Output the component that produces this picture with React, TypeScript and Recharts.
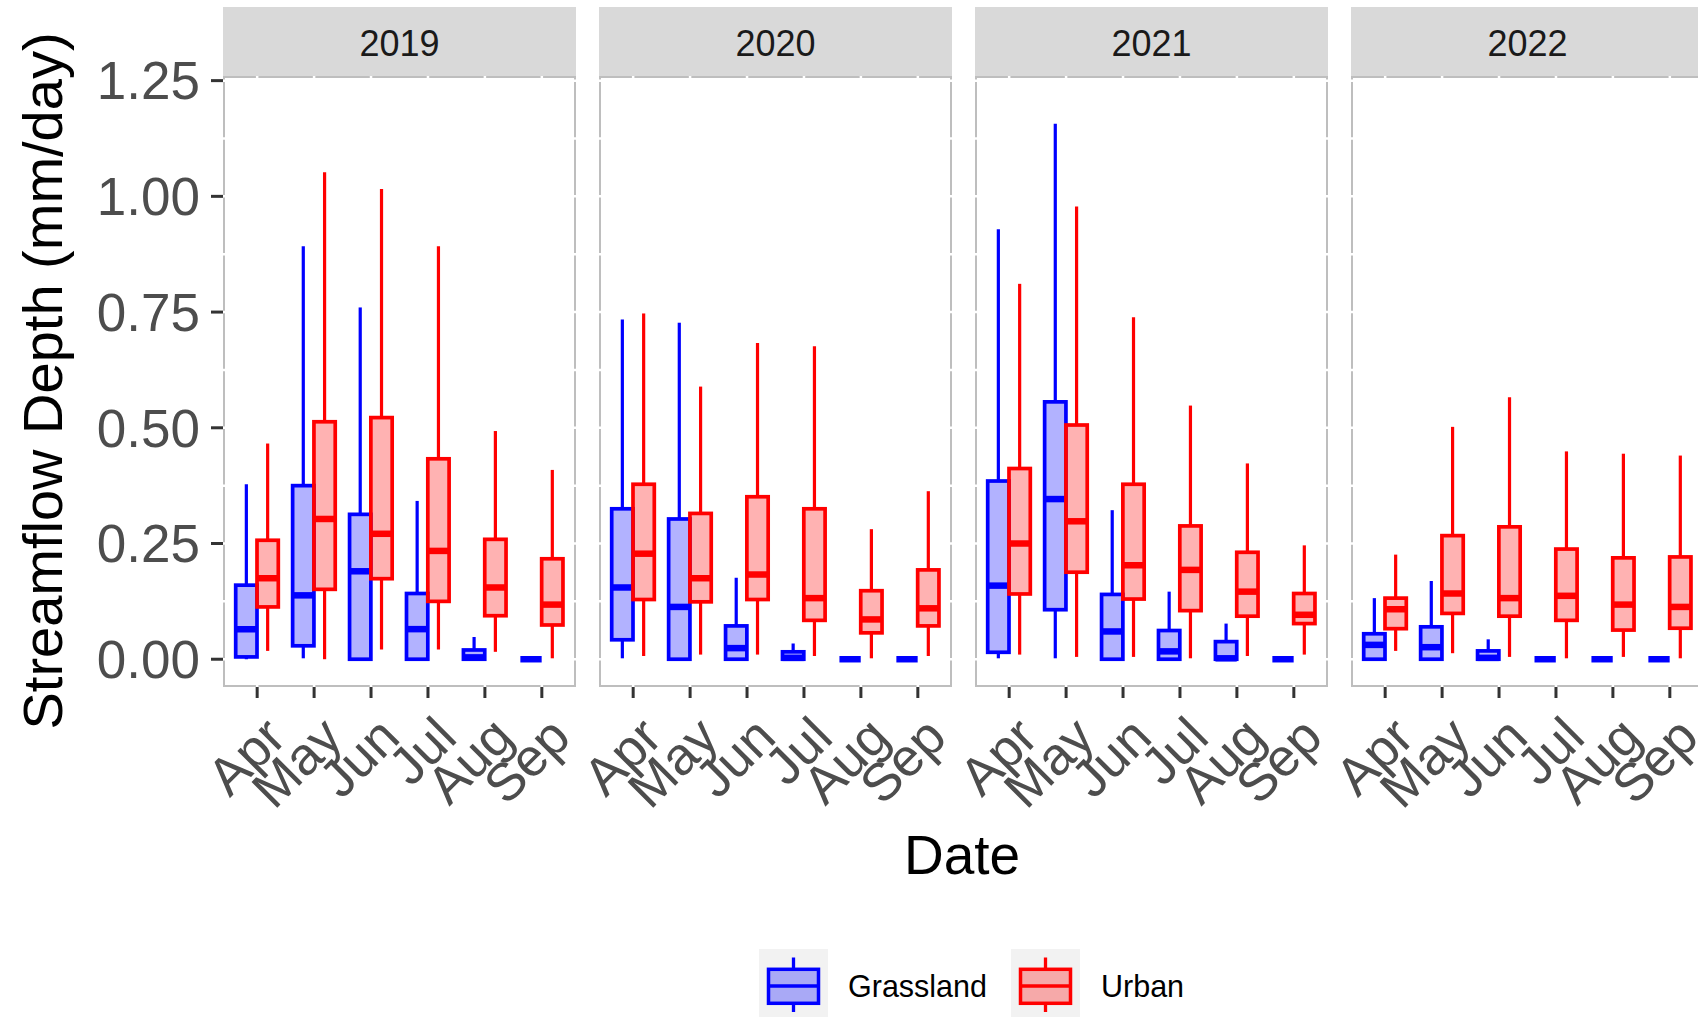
import React from 'react';
import { ComposedChart, Bar, XAxis, YAxis, CartesianGrid } from 'recharts';

const FONT = '"Liberation Sans", Arial, sans-serif';

const MONTHS = ['Apr', 'May', 'Jun', 'Jul', 'Aug', 'Sep'];
const YEARS = ['2019', '2020', '2021', '2022'];
const Y_TICKS = [0, 0.25, 0.5, 0.75, 1, 1.25];
const Y_GRID = [0, 0.125, 0.25, 0.375, 0.5, 0.625, 0.75, 0.875, 1, 1.125, 1.25];
const Y_DOMAIN = [-0.06, 1.26];

// each row: [min, q1, median, q3, max] for Apr..Sep
const GRASS_2019 = [
  [0, 0.005, 0.065, 0.16, 0.378],
  [0.002, 0.029, 0.138, 0.375, 0.892],
  [0, 0, 0.19, 0.313, 0.76],
  [0, 0, 0.065, 0.142, 0.342],
  [0, 0, 0.004, 0.02, 0.048],
  [0, 0, 0, 0, 0],
];
const URBAN_2019 = [
  [0.018, 0.113, 0.175, 0.257, 0.466],
  [0, 0.151, 0.303, 0.513, 1.052],
  [0.021, 0.174, 0.271, 0.522, 1.016],
  [0.021, 0.125, 0.234, 0.433, 0.892],
  [0.016, 0.094, 0.155, 0.259, 0.493],
  [0.002, 0.074, 0.118, 0.217, 0.409],
];
const GRASS_2020 = [
  [0.002, 0.042, 0.155, 0.325, 0.734],
  [0, 0, 0.113, 0.303, 0.727],
  [0, 0, 0.024, 0.072, 0.176],
  [0, 0, 0.003, 0.016, 0.034],
  [0, 0, 0, 0, 0],
  [0, 0, 0, 0, 0],
];
const URBAN_2020 = [
  [0.007, 0.129, 0.228, 0.378, 0.747],
  [0.01, 0.124, 0.175, 0.315, 0.589],
  [0.01, 0.129, 0.183, 0.351, 0.683],
  [0.007, 0.084, 0.132, 0.325, 0.676],
  [0.002, 0.057, 0.086, 0.148, 0.281],
  [0.007, 0.072, 0.11, 0.193, 0.363],
];
const GRASS_2021 = [
  [0.002, 0.015, 0.159, 0.385, 0.929],
  [0.002, 0.107, 0.346, 0.556, 1.157],
  [0, 0, 0.06, 0.14, 0.322],
  [0, 0, 0.017, 0.062, 0.146],
  [0, 0, 0.002, 0.038, 0.077],
  [0, 0, 0, 0, 0],
];
const URBAN_2021 = [
  [0.01, 0.141, 0.25, 0.412, 0.811],
  [0.005, 0.188, 0.298, 0.506, 0.978],
  [0.005, 0.13, 0.203, 0.378, 0.739],
  [0.002, 0.105, 0.193, 0.288, 0.548],
  [0.007, 0.093, 0.146, 0.231, 0.423],
  [0.01, 0.077, 0.096, 0.142, 0.246],
];
const GRASS_2022 = [
  [0, 0, 0.031, 0.055, 0.132],
  [0, 0, 0.026, 0.07, 0.169],
  [0, 0, 0.003, 0.018, 0.043],
  [0, 0, 0, 0, 0],
  [0, 0, 0, 0, 0],
  [0, 0, 0, 0, 0],
];
const URBAN_2022 = [
  [0.018, 0.066, 0.108, 0.132, 0.226],
  [0.013, 0.099, 0.142, 0.267, 0.502],
  [0.005, 0.093, 0.132, 0.286, 0.566],
  [0.002, 0.084, 0.137, 0.238, 0.449],
  [0.005, 0.063, 0.118, 0.219, 0.444],
  [0.002, 0.067, 0.113, 0.221, 0.44],
];

const GRASS = [GRASS_2019, GRASS_2020, GRASS_2021, GRASS_2022];
const URBAN = [URBAN_2019, URBAN_2020, URBAN_2021, URBAN_2022];

const BLUE = '#0000FF';
const RED = '#FF0000';

// layout
const PANEL_LEFT = [223, 599, 975, 1351];
const PANEL_W = 353;
const PANEL_TOP = 76;
const PANEL_H = 611;
const STRIP_TOP = 7;
const X_AXIS_H = 140;
const Y_AXIS_W = 223;
const PAD_TOP = 30;
const PAD_SIDE = 70;
const PAD_RIGHT = 30;
const X_PAD = 5.7;

// recharts 3 may hand over a wrapped scale object instead of a d3 function
function applyScale(s: any, v: any): number | undefined {
  if (!s) return undefined;
  if (typeof s === 'function') return s(v);
  if (typeof s.map === 'function') {
    const r = s.map(v);
    if (typeof r === 'number') return r;
  }
  if (typeof s.scale === 'function') return s.scale(v);
  return undefined;
}

const BoxShape = (props: any) => {
  const { x, y, width, height, stats, color } = props;
  if (x == null || y == null || !stats) return null;
  const [lo, q1, med, q3, hi] = stats;
  const span = hi - lo;
  const py = (v: number) => (span > 0 ? y + (height * (hi - v)) / span : y);
  const cx = x + width / 2;
  return (
    <g>
      <line x1={cx} x2={cx} y1={py(hi)} y2={py(q3)} stroke={color} strokeWidth={3.2} />
      <line x1={cx} x2={cx} y1={py(q1)} y2={py(lo)} stroke={color} strokeWidth={3.2} />
      <rect
        x={x}
        y={py(q3)}
        width={width}
        height={py(q1) - py(q3)}
        fill={color}
        fillOpacity={0.3}
        stroke={color}
        strokeWidth={3.7}
      />
      <line x1={x} x2={x + width} y1={py(med)} y2={py(med)} stroke={color} strokeWidth={6.5} />
    </g>
  );
};

const MonthTick = (props: any) => {
  const { x, y, payload } = props;
  return (
    <g transform={`translate(${x + 31}, ${y + 42}) rotate(-45)`}>
      <text x={0} y={0} textAnchor="end" fill="#4D4D4D" fontSize={53} fontFamily={FONT}>
        {payload.value}
      </text>
    </g>
  );
};

const horizontalGrid = ({ yAxis, offset }: any) =>
  Y_GRID.map((v) => {
    const p = applyScale(yAxis && yAxis.scale, v);
    if (typeof p === 'number' && !isNaN(p)) return p;
    return offset.top + (offset.height * (Y_DOMAIN[1] - v)) / (Y_DOMAIN[1] - Y_DOMAIN[0]);
  });

const verticalGrid = ({ offset }: any) => {
  const band = (offset.width - 2 * X_PAD) / MONTHS.length;
  return MONTHS.map((_, i) => offset.left + X_PAD + band * (i + 0.5));
};

function Panel({ index }: { index: number }) {
  const first = index === 0;
  const data = MONTHS.map((m, i) => ({ month: m, grass: GRASS[index][i], urban: URBAN[index][i] }));
  const left = first ? 0 : PANEL_LEFT[index] - PAD_SIDE;
  const width = (first ? Y_AXIS_W : PAD_SIDE) + PANEL_W + PAD_RIGHT;
  const height = PAD_TOP + PANEL_H + X_AXIS_H;

  return (
    <div style={{ position: 'absolute', left, top: PANEL_TOP - PAD_TOP }}>
      <ComposedChart
        width={width}
        height={height}
        data={data}
        margin={{ top: PAD_TOP, right: PAD_RIGHT, bottom: 0, left: first ? 0 : PAD_SIDE }}
        barGap={0}
      >
        <CartesianGrid
          stroke="#FFFFFF"
          strokeWidth={2.5}
          horizontalCoordinatesGenerator={horizontalGrid}
          verticalCoordinatesGenerator={verticalGrid}
        />
        <XAxis
          dataKey="month"
          type="category"
          interval={0}
          padding={{ left: X_PAD, right: X_PAD }}
          height={X_AXIS_H}
          axisLine={false}
          tickSize={11}
          tickMargin={0}
          tickLine={{ stroke: '#333333', strokeWidth: 3 }}
          tick={<MonthTick />}
        />
        <YAxis
          type="number"
          domain={Y_DOMAIN}
          allowDataOverflow
          ticks={Y_TICKS}
          hide={!first}
          width={Y_AXIS_W}
          axisLine={false}
          tickSize={12}
          tickMargin={11}
          tickLine={{ stroke: '#333333', strokeWidth: 3 }}
          tick={{ fill: '#4D4D4D', fontSize: 53, fontFamily: FONT }}
          tickFormatter={(v: number) => v.toFixed(2)}
        />
        <Bar
          dataKey={(d: any) => [d.grass[0], d.grass[4]]}
          barSize={21.3}
          isAnimationActive={false}
          shape={(p: any) => <BoxShape {...p} stats={p.payload.grass} color={BLUE} />}
        />
        <Bar
          dataKey={(d: any) => [d.urban[0], d.urban[4]]}
          barSize={21.3}
          isAnimationActive={false}
          shape={(p: any) => <BoxShape {...p} stats={p.payload.urban} color={RED} />}
        />
      </ComposedChart>
    </div>
  );
}

function LegendKey({ x, color }: { x: number; color: string }) {
  const top = 949;
  const cx = x + 34.5;
  return (
    <g>
      <rect x={x} y={top} width={69} height={68} fill="#F2F2F2" />
      <line x1={cx} x2={cx} y1={957.5} y2={969.3} stroke={color} strokeWidth={3.3} />
      <line x1={cx} x2={cx} y1={1003.3} y2={1012} stroke={color} strokeWidth={3.3} />
      <rect x={cx - 25} y={969.3} width={50} height={34} fill={color} fillOpacity={0.3} stroke={color} strokeWidth={3.5} />
      <line x1={cx - 25} x2={cx + 25} y1={986} y2={986} stroke={color} strokeWidth={3.5} />
    </g>
  );
}

export default function App() {
  return (
    <div
      style={{
        position: 'absolute',
        left: 0,
        top: 0,
        width: 1698,
        height: 1017,
        overflow: 'hidden',
        background: '#FFFFFF',
        fontFamily: FONT,
      }}
    >
      <svg width={1698} height={1017} style={{ position: 'absolute', left: 0, top: 0 }}>
        {YEARS.map((yr, i) => (
          <g key={yr}>
            <rect x={PANEL_LEFT[i]} y={STRIP_TOP} width={PANEL_W} height={PANEL_TOP - STRIP_TOP} fill="#D9D9D9" />
            <text
              x={PANEL_LEFT[i] + PANEL_W / 2}
              y={56}
              textAnchor="middle"
              fontSize={36}
              fill="#1A1A1A"
              fontFamily={FONT}
            >
              {yr}
            </text>
            <rect
              x={PANEL_LEFT[i] + 1}
              y={PANEL_TOP + 1}
              width={PANEL_W - 2}
              height={PANEL_H - 2}
              fill="#FFFFFF"
              stroke="#BEBEBE"
              strokeWidth={2}
            />
          </g>
        ))}
        <text
          transform="translate(62, 381) rotate(-90)"
          textAnchor="middle"
          fontSize={56}
          fill="#000000"
          fontFamily={FONT}
        >
          Streamflow Depth (mm/day)
        </text>
        <text x={962} y={874} textAnchor="middle" fontSize={55} fill="#000000" fontFamily={FONT}>
          Date
        </text>
        <LegendKey x={759} color={BLUE} />
        <text x={848} y={997} fontSize={30.5} fill="#000000" fontFamily={FONT}>
          Grassland
        </text>
        <LegendKey x={1011} color={RED} />
        <text x={1101} y={997} fontSize={30.5} fill="#000000" fontFamily={FONT}>
          Urban
        </text>
      </svg>
      {YEARS.map((yr, i) => (
        <Panel key={yr} index={i} />
      ))}
    </div>
  );
}
